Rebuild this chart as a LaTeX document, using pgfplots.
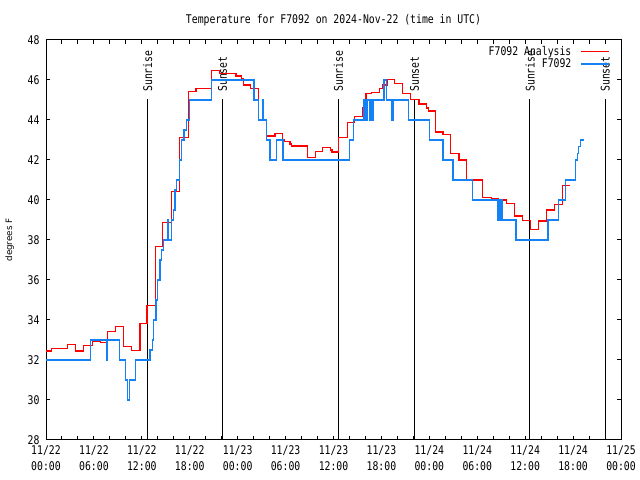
\documentclass[border=0pt]{standalone}
\usepackage{pgfplots}
\pgfplotsset{compat=1.18}
\usepackage{fontspec}
\setmainfont{DejaVu Sans Mono}[FakeStretch=0.82]
\newfontfamily\sansf{DejaVu Sans}
\newcommand{\gfont}{\fontsize{12}{15.7}\selectfont}
\definecolor{obsblue}{RGB}{20,130,245}
\definecolor{anared}{RGB}{255,0,0}
\begin{document}
\begin{tikzpicture}[x=1bp,y=1bp]
\useasboundingbox (0,0) rectangle (640,480);
\begin{axis}[
 at={(46bp,40bp)}, anchor=south west,
 scale only axis, width=575bp, height=400bp,
 xmin=0, xmax=72, ymin=28, ymax=48,
 xtick={0,6,...,72},
 xticklabels={{11/22\\00:00},{11/22\\06:00},{11/22\\12:00},{11/22\\18:00},{11/23\\00:00},{11/23\\06:00},{11/23\\12:00},{11/23\\18:00},{11/24\\00:00},{11/24\\06:00},{11/24\\12:00},{11/24\\18:00},{11/25\\00:00}},
 minor xtick={0,2,...,72},
 ytick={28,30,...,48},
 tick align=inside,
 major tick length=4bp, minor tick length=4bp,
 tick style={black, line width=1bp},
 axis line style={black, line width=1bp},
 xticklabel style={align=center, font=\gfont, yshift=-2.5bp},
 yticklabel style={font=\gfont, xshift=-3bp},
 /pgf/number format/assume math mode=true,
 ylabel={degrees F},
 ylabel style={font=\sansf\fontsize{8.8}{10}\selectfont, at={(axis description cs:-0.063,0.5)}, anchor=center},
 title={Temperature for F7092 on 2024-Nov-22 (time in UTC)},
 title style={font=\gfont, at={(axis description cs:0.5,1)}, anchor=base, yshift=11bp},
 legend style={at={(axis description cs:1,1)}, anchor=north east, draw=none, fill=none, font=\gfont, xshift=-10bp, yshift=-3bp, row sep=-2bp, inner sep=1bp},
 legend cell align=right,
 legend plot pos=right,
 legend image code/.code={\path (0bp,0bp); \draw[#1, line width=1.6bp] (7bp,0bp) -- (35bp,0bp);},
 clip=false,
]
% sunrise / sunset lines
\addplot[black, line width=1bp, forget plot] coordinates {(12.68,28) (12.68,45.03)};
\addplot[black, line width=1bp, forget plot] coordinates {(22.07,28) (22.07,45.03)};
\addplot[black, line width=1bp, forget plot] coordinates {(36.58,28) (36.58,45.03)};
\addplot[black, line width=1bp, forget plot] coordinates {(46.10,28) (46.10,45.03)};
\addplot[black, line width=1bp, forget plot] coordinates {(60.60,28) (60.60,45.03)};
\addplot[black, line width=1bp, forget plot] coordinates {(70.00,28) (70.00,45.03)};
\node[rotate=90, anchor=west, inner sep=0pt, font=\gfont] at (axis cs:12.72,45.4) {Sunrise};
\node[rotate=90, anchor=west, inner sep=0pt, font=\gfont] at (axis cs:22.11,45.4) {Sunset};
\node[rotate=90, anchor=west, inner sep=0pt, font=\gfont] at (axis cs:36.62,45.4) {Sunrise};
\node[rotate=90, anchor=west, inner sep=0pt, font=\gfont] at (axis cs:46.14,45.4) {Sunset};
\node[rotate=90, anchor=west, inner sep=0pt, font=\gfont] at (axis cs:60.64,45.4) {Sunrise};
\node[rotate=90, anchor=west, inner sep=0pt, font=\gfont] at (axis cs:70.04,45.4) {Sunset};
% analysis
\addplot[anared, line width=1.3bp, const plot] table {
x y
0.000 32.45
0.713 32.58
2.716 32.78
3.717 32.45
4.668 32.73
5.795 32.93
6.796 32.88
7.722 33.43
8.723 33.68
9.675 32.68
10.726 32.48
11.765 33.83
12.641 34.73
13.742 37.67
14.606 38.88
15.682 40.43
16.683 43.13
17.810 45.43
18.773 45.57
20.738 46.47
21.690 46.33
23.780 46.20
24.493 46.08
24.693 45.75
25.620 45.57
26.571 44.00
27.622 43.20
28.661 43.33
29.625 43.03
29.787 42.92
30.538 42.80
30.701 42.70
32.703 42.13
33.705 42.43
34.631 42.63
35.632 42.50
35.795 42.40
36.583 43.13
37.710 43.87
38.611 44.18
39.612 44.62
39.800 45.00
40.050 45.33
40.764 45.37
41.715 45.58
42.215 45.75
42.716 46.03
43.680 45.83
44.643 45.33
45.682 45.03
46.721 44.80
47.647 44.60
47.872 44.45
48.811 43.40
49.725 43.28
50.651 42.33
51.727 42.00
52.653 41.00
54.656 40.13
55.782 40.07
56.608 40.00
57.660 39.83
58.698 39.20
59.662 38.96
60.663 38.53
61.639 38.95
62.666 39.50
63.705 39.78
64.668 40.73
65.670 40.73
};
\addlegendentry{F7092 Analysis}
% observations
\addplot[obsblue, line width=1.3bp, const plot] table {
x y
0.000 32
5.544 33
7.572 32
7.660 33
9.174 32
9.975 31
10.200 30
10.451 31
11.227 32
13.016 32.5
13.304 33
13.454 34
13.767 35
13.980 36
14.268 37
14.481 37.5
14.681 38
15.232 39
15.307 38
15.732 39
15.932 39.5
16.145 40.5
16.358 41
16.683 42
16.984 43
17.272 43.5
17.610 44
17.935 45
20.738 46
26.033 45
26.571 44
27.121 45
27.196 44
27.622 43
28.035 42
28.874 43
29.662 42
37.960 43
38.461 44
39.712 45
39.837 44
39.987 45
40.175 44
40.300 45
40.488 44
40.676 45
40.864 44
41.051 45
42.341 46
42.616 45
43.304 44
43.379 45
43.467 44
43.554 45
45.394 44
48.060 43
49.725 42
50.976 41
53.404 40
56.608 39
56.771 40
56.846 39
57.021 40
57.096 39
58.861 38
62.866 39
64.168 40
65.081 41
66.295 42
66.521 42.33
66.708 42.67
66.959 43
67.334 43
};
\addlegendentry{F7092}
\end{axis}
\end{tikzpicture}
\end{document}
